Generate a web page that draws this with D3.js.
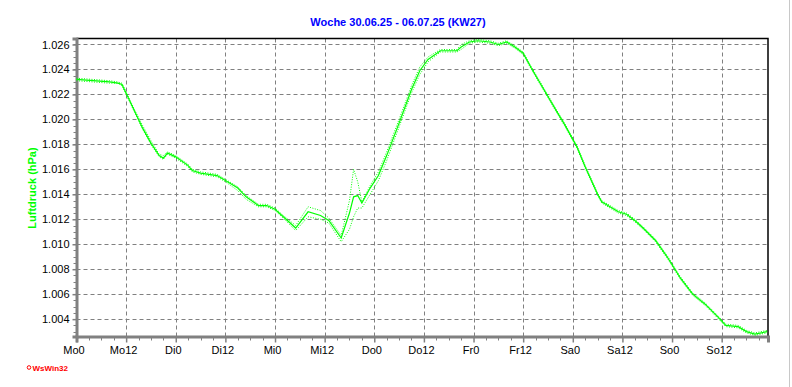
<!DOCTYPE html>
<html>
<head>
<meta charset="utf-8">
<script src="https://cdn.jsdelivr.net/npm/d3@7"></script>
<style>
  body { margin: 0; background: #fff; }
  text { font-family: "Liberation Sans", Arial, sans-serif; }
</style>
</head>
<body>
<div id="chart"></div>
<script>
const width = 792, height = 387;

// hours since Mo 00:00
const hours = [0,4,8,10,11,12,14,16,18,20,21,22,24,27,28,30,34,36,39,41,44,46,48,50,53,56,59,61,64,66,67,68,69,71,73,75,78,81,83,85,88,92,93,95,97,100,102,104,106,108,110,113,116,118,121,123,126,127,131,133,135,137,140,143,146,149,152,155,157,160,162,164,167];
const pAvg = [1.0232,1.0231,1.0230,1.0229,1.0228,1.0221,1.0207,1.0193,1.0181,1.0171,1.0169,1.0173,1.0170,1.0163,1.0159,1.0157,1.0155,1.0151,1.0145,1.0138,1.0131,1.0131,1.0128,1.0122,1.0113,1.0126,1.0123,1.0119,1.0105,1.0125,1.0138,1.0139,1.0133,1.0145,1.0155,1.0171,1.0197,1.0224,1.0239,1.0248,1.0255,1.0255,1.0258,1.0262,1.0263,1.0262,1.0260,1.0262,1.0258,1.0253,1.0241,1.0224,1.0207,1.0196,1.0178,1.0162,1.0140,1.0134,1.0126,1.0124,1.0119,1.0113,1.0103,1.0089,1.0073,1.0060,1.0052,1.0042,1.0035,1.0034,1.0030,1.0028,1.0030];
const pMax = [1.0233,1.0232,1.0231,1.0230,1.0229,1.0222,1.0208,1.0195,1.0183,1.0172,1.0171,1.0174,1.0171,1.0164,1.0160,1.0158,1.0156,1.0152,1.0146,1.0139,1.0132,1.0132,1.0129,1.0123,1.0115,1.0130,1.0127,1.0121,1.0107,1.0135,1.0160,1.0150,1.0134,1.0147,1.0158,1.0174,1.0200,1.0227,1.0242,1.0250,1.0256,1.0256,1.0260,1.0263,1.0264,1.0263,1.0261,1.0263,1.0259,1.0254,1.0242,1.0225,1.0208,1.0197,1.0179,1.0163,1.0141,1.0135,1.0127,1.0125,1.0120,1.0114,1.0104,1.0090,1.0074,1.0061,1.0053,1.0043,1.0036,1.0035,1.0031,1.0029,1.0031];
const pMin = [1.0231,1.0230,1.0229,1.0229,1.0227,1.0220,1.0206,1.0192,1.0180,1.0170,1.0168,1.0172,1.0169,1.0162,1.0158,1.0156,1.0154,1.0150,1.0143,1.0136,1.0130,1.0130,1.0127,1.0121,1.0111,1.0122,1.0120,1.0117,1.0102,1.0112,1.0122,1.0129,1.0129,1.0140,1.0151,1.0167,1.0194,1.0221,1.0236,1.0246,1.0254,1.0254,1.0256,1.0261,1.0262,1.0261,1.0259,1.0261,1.0257,1.0252,1.0240,1.0223,1.0206,1.0195,1.0177,1.0161,1.0139,1.0133,1.0125,1.0123,1.0118,1.0112,1.0102,1.0088,1.0072,1.0059,1.0051,1.0041,1.0034,1.0033,1.0029,1.0027,1.0029];

const xTickLabels = ["Mo0","Mo12","Di0","Di12","Mi0","Mi12","Do0","Do12","Fr0","Fr12","Sa0","Sa12","So0","So12"];
const yTicks = [1.004,1.006,1.008,1.010,1.012,1.014,1.016,1.018,1.020,1.022,1.024,1.026];
const title = "Woche 30.06.25 - 06.07.25 (KW27)";
const yTitle = "Luftdruck (hPa)";

const plot = { left: 76.5, right: 768, top: 38.5, bottom: 336.5 };

const x = d3.scaleLinear().domain([0, 167.2]).range([plot.left, plot.right]);
const y = d3.scaleLinear().domain([1.00261, 1.02648]).range([plot.bottom, plot.top]);

const svg = d3.select("#chart").append("svg").attr("width", width).attr("height", height);

// window edge on the right
svg.append("line").attr("x1", 789.5).attr("x2", 789.5).attr("y1", 0).attr("y2", height)
    .attr("stroke", "#c8c8c8");

// title
svg.append("text").attr("x", 398).attr("y", 26).attr("text-anchor", "middle")
    .attr("fill", "#0000ff").attr("font-weight", "bold").attr("font-size", "11px").text(title);

// grid
const xMajor = d3.range(0, 168, 12);
svg.append("g").selectAll("line").data(xMajor.slice(1)).join("line")
    .attr("x1", d => Math.round(x(d)) + 0.5).attr("x2", d => Math.round(x(d)) + 0.5)
    .attr("y1", plot.top).attr("y2", plot.bottom)
    .attr("stroke", "#808080").attr("stroke-dasharray", "4,3");
svg.append("g").selectAll("line").data(yTicks).join("line")
    .attr("x1", plot.left).attr("x2", plot.right)
    .attr("y1", d => Math.round(y(d)) + 0.5).attr("y2", d => Math.round(y(d)) + 0.5)
    .attr("stroke", "#808080").attr("stroke-dasharray", "4,3");

// frame: black top/right
svg.append("path")
    .attr("d", `M${plot.left},${plot.top}H${plot.right}V${plot.bottom}`)
    .attr("fill", "none").attr("stroke", "#000").attr("stroke-width", 1.5);

// axes (thick gray)
const yAxis = d3.axisLeft(y).tickValues(yTicks).tickFormat(d3.format(".3f")).tickSize(4).tickPadding(3);
const gy = svg.append("g").attr("transform", `translate(${plot.left},0)`).call(yAxis);
gy.select(".domain").attr("stroke", "#808080").attr("stroke-width", 3);
gy.selectAll(".tick line").attr("stroke", "#808080").attr("stroke-width", 1.5);
gy.selectAll("text").attr("font-size", "11px").attr("fill", "#000").attr("font-family", "Liberation Sans, Arial, sans-serif");

// y minor ticks
svg.append("g").selectAll("line").data(d3.range(1.003, 1.0265, 0.0005)).join("line")
    .attr("x1", plot.left - 3).attr("x2", plot.left)
    .attr("y1", d => Math.round(y(d)) + 0.5).attr("y2", d => Math.round(y(d)) + 0.5)
    .attr("stroke", "#808080");

const xAxis = d3.axisBottom(x).tickValues(xMajor).tickFormat((d, i) => xTickLabels[i]).tickSize(6).tickPadding(4);
const gx = svg.append("g").attr("transform", `translate(0,${plot.bottom})`).call(xAxis);
gx.select(".domain").attr("stroke", "#808080").attr("stroke-width", 3);
gx.selectAll(".tick line").attr("stroke", "#808080").attr("stroke-width", 1.5);
gx.selectAll("text").attr("font-size", "11px").attr("fill", "#000").attr("dx", "-3")
    .attr("font-family", "Liberation Sans, Arial, sans-serif");

// x minor ticks every 3h
svg.append("g").selectAll("line").data(d3.range(3, 168, 3).filter(d => d % 12 !== 0)).join("line")
    .attr("x1", d => Math.round(x(d)) + 0.5).attr("x2", d => Math.round(x(d)) + 0.5)
    .attr("y1", plot.bottom).attr("y2", plot.bottom + 4)
    .attr("stroke", "#808080");

// y title
svg.append("text").attr("transform", "translate(36,188) rotate(-90)").attr("text-anchor", "middle")
    .attr("fill", "#00ff00").attr("font-weight", "bold").attr("font-size", "11px").text(yTitle);

// lines
const line = arr => d3.line().x((d, i) => x(hours[i])).y((d, i) => y(arr[i]))(arr);
svg.append("path").attr("d", line(pMax)).attr("fill", "none")
    .attr("stroke", "#00ff00").attr("stroke-width", 1).attr("stroke-dasharray", "1,1.5");
svg.append("path").attr("d", line(pMin)).attr("fill", "none")
    .attr("stroke", "#00ff00").attr("stroke-width", 1).attr("stroke-dasharray", "1,1.5");
svg.append("path").attr("d", line(pAvg)).attr("fill", "none")
    .attr("stroke", "#00ff00").attr("stroke-width", 1.2);

// WsWin32 mark
svg.append("circle").attr("cx", 29).attr("cy", 367.5).attr("r", 1.8)
    .attr("fill", "none").attr("stroke", "#ff0000").attr("stroke-width", 1);
svg.append("text").attr("x", 32.5).attr("y", 370.5).attr("fill", "#ff0000")
    .attr("font-size", "8px").attr("font-weight", "bold").text("WsWin32");
</script>
</body>
</html>
